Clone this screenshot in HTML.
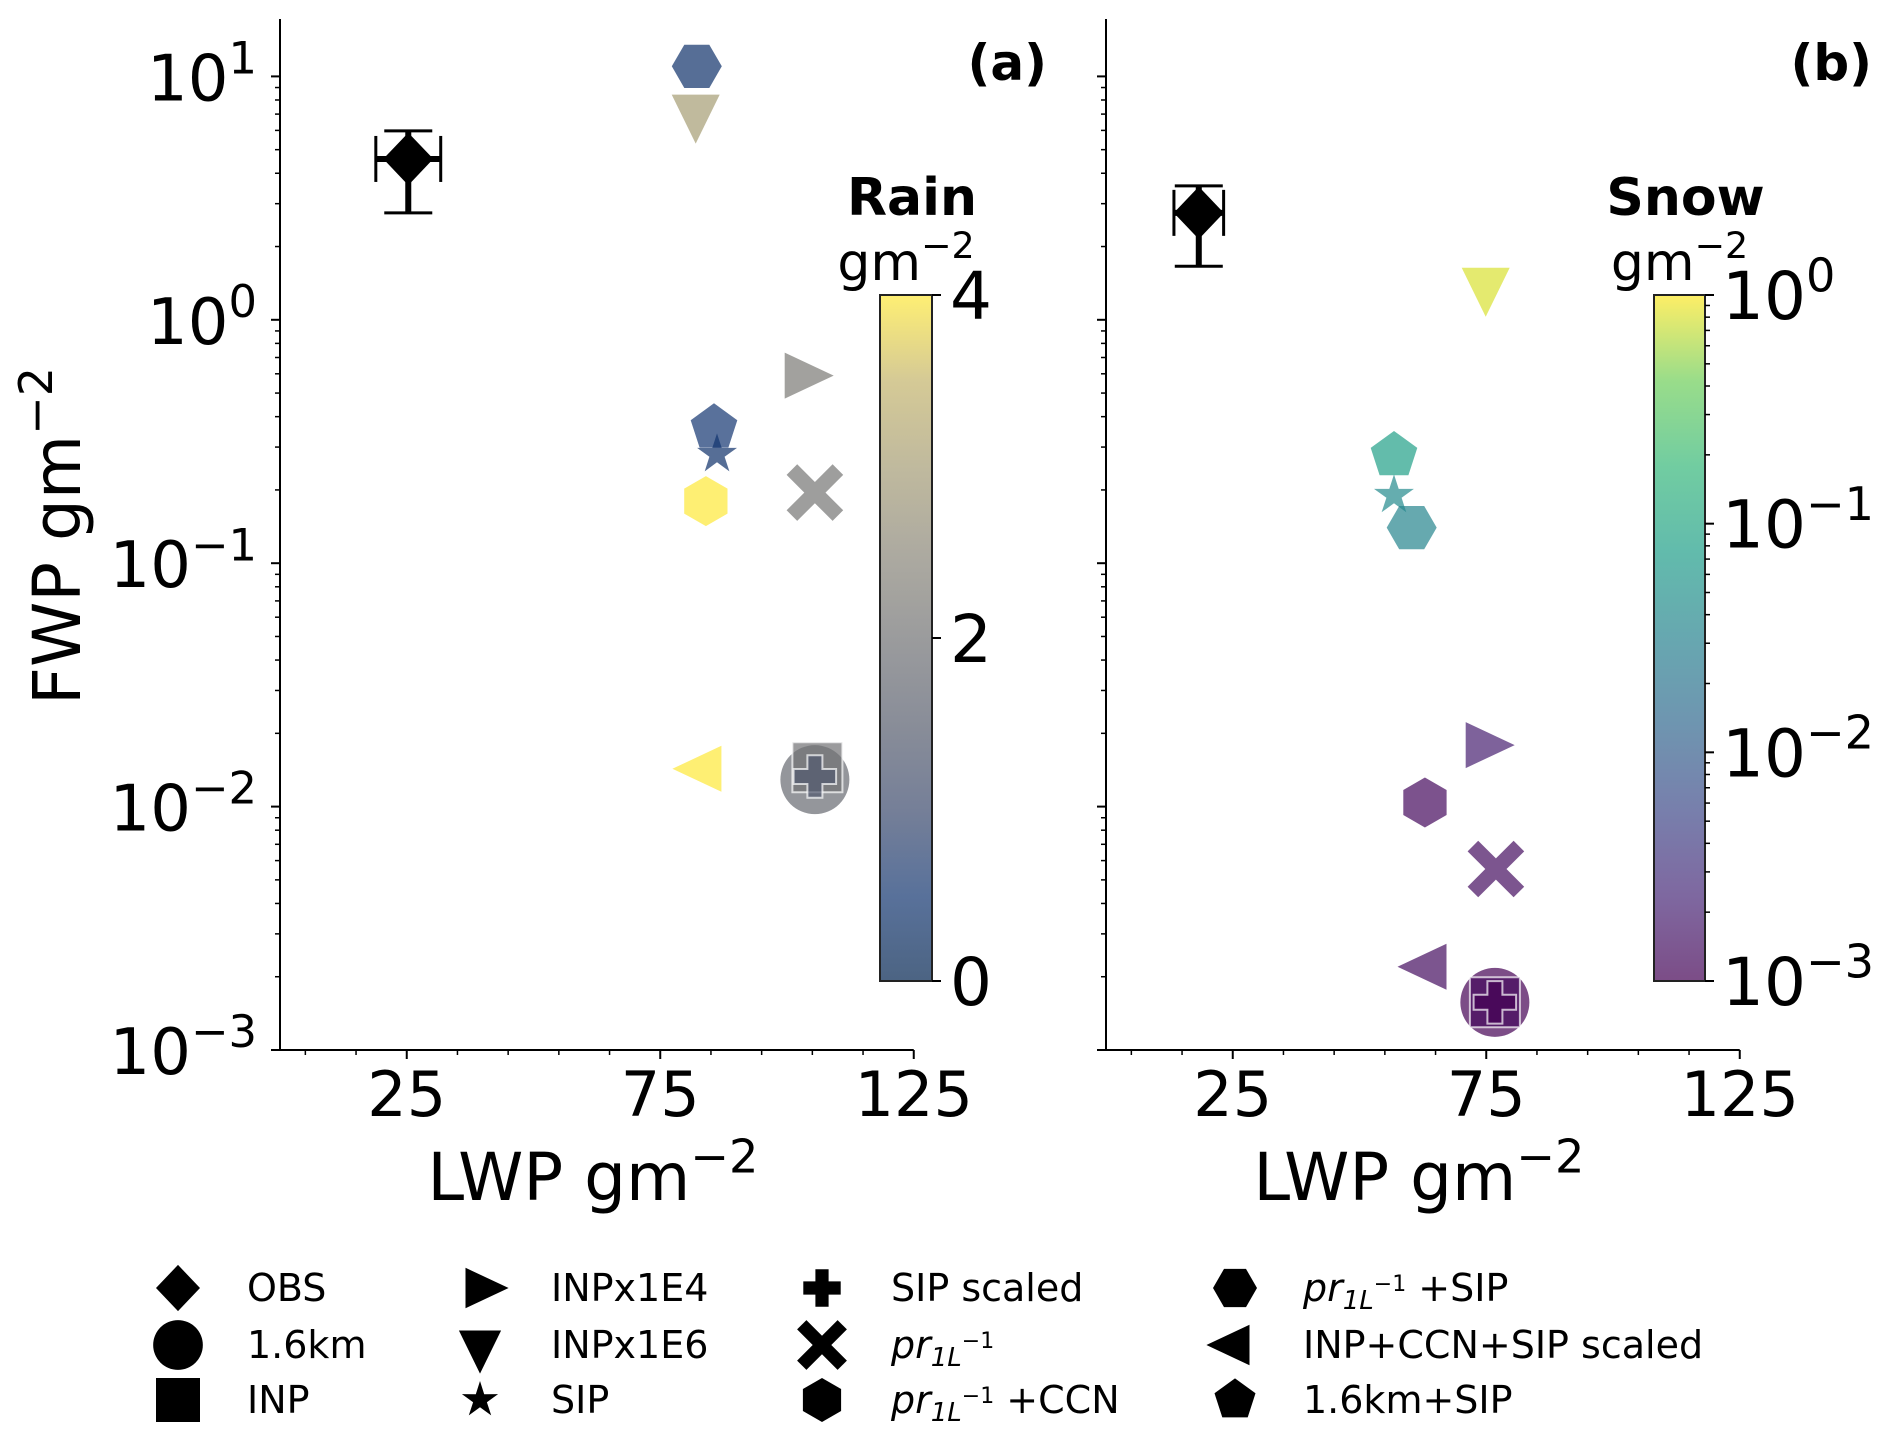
<!DOCTYPE html>
<html><head><meta charset="utf-8"><style>
html,body{margin:0;padding:0;background:#fff;}
svg{display:block;font-family:"DejaVu Sans","Liberation Sans",sans-serif;}
</style></head><body>
<svg id="fig" width="1892" height="1440" viewBox="0 0 1892 1440" xmlns="http://www.w3.org/2000/svg">
<defs>
<linearGradient id="gradA" x1="0" y1="1" x2="0" y2="0">
<stop offset="0" stop-color="#00224e"/><stop offset="0.125" stop-color="#123570"/><stop offset="0.25" stop-color="#3b496c"/><stop offset="0.375" stop-color="#575d6d"/><stop offset="0.5" stop-color="#707173"/><stop offset="0.625" stop-color="#8a8678"/><stop offset="0.75" stop-color="#a59c74"/><stop offset="0.875" stop-color="#c3b369"/><stop offset="1" stop-color="#fee838"/>
</linearGradient>
<linearGradient id="gradB" x1="0" y1="1" x2="0" y2="0">
<stop offset="0" stop-color="#440154"/><stop offset="0.125" stop-color="#482878"/><stop offset="0.25" stop-color="#3e4989"/><stop offset="0.375" stop-color="#31688e"/><stop offset="0.5" stop-color="#26828e"/><stop offset="0.625" stop-color="#1f9e89"/><stop offset="0.75" stop-color="#35b779"/><stop offset="0.875" stop-color="#6ece58"/><stop offset="1" stop-color="#fde725"/>
</linearGradient>
</defs>
<g id="panelA"></g>
<g id="panelB"></g>
<g id="legend"></g>
</svg>
<script>
// ---- data ----
const experiments = ["OBS","1.6km","INP","INPx1E4","INPx1E6","SIP","SIP scaled","pr","pr+CCN","pr+SIP","INP+CCN+SIP scaled","1.6km+SIP"];
const markers = ["D","o","s",">","v","*","P","X","h","H","<","p"];
// Panel a (rain)
const lwpA  = [25.3, 105.5, 106, 102.8, 82, 86.2, 105.5, 105.5, 84, 82.2, 83.8, 85.6];
const fwpA  = [4.58, 0.0129, 0.0145, 0.59, 7.2, 0.28, 0.0133, 0.195, 0.18, 11.0, 0.0143, 0.36];
const rainA = [null, 1.8, 2.0, 2.2, 3.0, 0.4, 1.4, 2.1, 4.0, 0.4, 4.0, 0.5];
const obsA = {xerr:6.4, ylo:2.75, yhi:5.97};
// Panel b (snow)
const lwpB  = [18.3, 76.7, 76.7, 74.2, 74.9, 56.8, 76.7, 76.9, 62.9, 60.3, 63.9, 56.8];
const fwpB  = [2.75, 0.00157, 0.00157, 0.0179, 1.40, 0.19, 0.00157, 0.00554, 0.0104, 0.14, 0.0022, 0.277];
const snowB = [null, 0.001, 0.0012, 0.002, 0.8, 0.04, 0.001, 0.0013, 0.0012, 0.035, 0.0013, 0.08];
const obsB = {xerr:4.9, ylo:1.66, yhi:3.55};
const xTicks = [25,75,125];
const xMinor = [5,15,35,45,55,65,85,95,105,115];
const yTickExp = [1,0,-1,-2,-3];
const cbATicks = [0,2,4];
const cbBTickExp = [0,-1,-2,-3];

const NS="http://www.w3.org/2000/svg";
function el(tag, attrs, parent){const e=document.createElementNS(NS,tag);for(const k in attrs)e.setAttribute(k,attrs[k]);if(parent)parent.appendChild(e);return e;}

const Y0=1050, DEC=243.4, XS=5.07;
function yS(v){return Y0-(Math.log10(v)+3)*DEC;}
function xA(v){return 280+v*XS;}
function xB(v){return 1106+v*XS;}

const civ=["#00224e","#123570","#3b496c","#575d6d","#707173","#8a8678","#a59c74","#c3b369","#fee838"];
const vir=["#440154","#482878","#3e4989","#31688e","#26828e","#1f9e89","#35b779","#6ece58","#fde725"];
function interp(stops,t){t=Math.max(0,Math.min(1,t));const n=stops.length-1;const i=Math.min(n-1,Math.floor(t*n));const f=t*n-i;
 const a=stops[i],b=stops[i+1];const p=s=>[1,3,5].map(j=>parseInt(s.substr(j,2),16));const ca=p(a),cb=p(b);
 return "rgb("+ca.map((c,j)=>Math.round(c+(cb[j]-c)*f)).join(",")+")";}
function colA(v){return interp(civ,v/4);}
function colB(v){return interp(vir,(Math.log10(v)+3)/3);}

function markerPath(m,cx,cy,s){
 const pts=(arr)=>"M"+arr.map(p=>(cx+p[0]).toFixed(1)+","+(cy+p[1]).toFixed(1)).join("L")+"Z";
 const poly=(n,r,rot)=>{const a=[];for(let i=0;i<n;i++){const t=rot+i*2*Math.PI/n;a.push([r*Math.sin(t),-r*Math.cos(t)]);}return a;};
 const plus=(w,L)=>[[-w,-L],[w,-L],[w,-w],[L,-w],[L,w],[w,w],[w,L],[-w,L],[-w,w],[-L,w],[-L,-w],[-w,-w]];
 switch(m){
  case "D": return pts([[0,-s*1.05],[s,0],[0,s*1.05],[-s,0]]);
  case "s": return pts([[-s,-s],[s,-s],[s,s],[-s,s]]);
  case ">": return pts([[-s*0.66,-s*0.92],[s*1.3,0],[-s*0.66,s*0.92]]);
  case "<": return pts([[s*0.66,-s*0.92],[-s*1.3,0],[s*0.66,s*0.92]]);
  case "v": return pts([[-s*0.96,-s*0.66],[s*0.96,-s*0.66],[0,s*1.3]]);
  case "h": return pts(poly(6,s,0));
  case "H": return pts(poly(6,s,Math.PI/6));
  case "p": return pts(poly(5,s*0.98,0));
  case "*": {const a=[];for(let i=0;i<10;i++){const r=i%2?s*0.38:s;const t=i*Math.PI/5;a.push([r*Math.sin(t),-r*Math.cos(t)]);}return pts(a);}
  case "P": return pts(plus(s*0.3,s*0.85));
  case "X": {const c=Math.SQRT1_2;return pts(plus(s*0.3,s*1.3).map(p=>[(p[0]-p[1])*c,(p[0]+p[1])*c]));}
 }
 return "";
}
function drawMarker(g,m,cx,cy,s,fill,op,stroke){
 if(m==="o"){return el("circle",{cx:cx,cy:cy,r:s*1.38,fill:fill,"fill-opacity":op},g);}
 const a={d:markerPath(m,cx,cy,s),fill:fill,"fill-opacity":op};
 if(stroke){a.stroke=stroke;a["stroke-width"]=2;a["stroke-opacity"]=0.7;}
 return el("path",a,g);
}
function sup(parent,x,y,base,exp,size,anchor){
 const t=el("text",{x:x,y:y,"font-size":size,"text-anchor":anchor||"start",fill:"#000"},parent);
 const b=el("tspan",{},t);b.textContent=base;
 const e=el("tspan",{dy:-size*0.42,"font-size":size*0.7},t);e.textContent=exp;
 return t;
}

function panel(g,xf,lwp,fwp,cv,colf,obs,opts){
 const L=xf(0),R=xf(125);
 const sp=el("g",{},g);
 
 
 el("line",{x1:L,y1:19,x2:L,y2:Y0,stroke:"#000","stroke-width":2},sp);
 el("line",{x1:L,y1:Y0,x2:R,y2:Y0,stroke:"#000","stroke-width":2},sp);
 const xt=el("g",{},g);
 
 
 xTicks.forEach(v=>{el("line",{x1:xf(v),y1:Y0,x2:xf(v),y2:Y0+9,stroke:"#000","stroke-width":2},xt);
  const t=el("text",{x:xf(v),y:1116,"font-size":62,"text-anchor":"middle"},xt);t.textContent=v;});
 xMinor.forEach(v=>el("line",{x1:xf(v),y1:Y0,x2:xf(v),y2:Y0+5,stroke:"#000","stroke-width":1.5},xt));
 const yt=el("g",{},g);
 
 
 yTickExp.forEach(e=>{const y=yS(Math.pow(10,e));el("line",{x1:L-9,y1:y,x2:L,y2:y,stroke:"#000","stroke-width":2},yt);
  if(opts.ylabels){sup(yt,257,y+24,"10",e<0?"\u2212"+(-e):String(e),64,"end");}
  if(e>-3){for(let k=2;k<10;k++){const yy=yS(k*Math.pow(10,e-1));el("line",{x1:L-5,y1:yy,x2:L,y2:yy,stroke:"#000","stroke-width":1.5},yt);}}});
 for(let k=2;k<10;k++){const yy=yS(k*10);if(yy>19)el("line",{x1:L-5,y1:yy,x2:L,y2:yy,stroke:"#000","stroke-width":1.5},yt);}
 const xl=sup(g,(L+R)/2-4,1200,"LWP gm","\u22122",66,"middle");
 
 
 const pg=el("g",{},g);
 
 
 for(let i=1;i<lwp.length;i++){
  const stroke=(markers[i]==="P"||markers[i]==="s")?"#ffffff":null;
  const sz=markers[i]==="*"?21:25;
  const m=drawMarker(pg,markers[i],xf(lwp[i]),yS(fwp[i]),sz,colf(cv[i]),0.7,stroke);
  
  
 }
 const og=el("g",{},g);
 
 
 const ox=xf(lwp[0]),oy=yS(fwp[0]);
 const x1=xf(lwp[0]-obs.xerr),x2=xf(lwp[0]+obs.xerr),y1=yS(obs.yhi),y2=yS(obs.ylo);
 el("line",{x1:x1,y1:oy,x2:x2,y2:oy,stroke:"#000","stroke-width":6},og);
 el("line",{x1:ox,y1:y1,x2:ox,y2:y2,stroke:"#000","stroke-width":6},og);
 [x1,x2].forEach(x=>el("line",{x1:x,y1:oy-23,x2:x,y2:oy+23,stroke:"#000","stroke-width":3},og));
 [y1,y2].forEach(y=>el("line",{x1:ox-24,y1:y,x2:ox+24,y2:y,stroke:"#000","stroke-width":3},og));
 drawMarker(og,"D",ox,oy,25,"#000",1,null);
}

const gA=document.getElementById("panelA"), gB=document.getElementById("panelB");
panel(gA,xA,lwpA,fwpA,rainA,colA,obsA,{ylabels:true});
panel(gB,xB,lwpB,fwpB,snowB,colB,obsB,{ylabels:false});

const yl=el("text",{transform:"translate(80,536) rotate(-90)","font-size":66,"text-anchor":"middle"},gA);


(function(){const b=el("tspan",{},yl);b.textContent="FWP gm";const e=el("tspan",{dy:-28,"font-size":46},yl);e.textContent="\u22122";})();

const la=el("text",{x:1047,y:80,"font-size":50,"font-weight":"bold","text-anchor":"end"},gA);la.textContent="(a)";


const lb=el("text",{x:1872,y:80,"font-size":50,"font-weight":"bold","text-anchor":"end"},gB);lb.textContent="(b)";



const CT=295,CB=981;
function colorbar(g,x0,x1,grad,title,ticks){
 const cg=el("g",{},g);
 
 
 el("rect",{x:x0,y:CT,width:x1-x0,height:CB-CT,fill:"url(#"+grad+")","fill-opacity":0.7,stroke:"#222","stroke-width":2},cg);
 const t=el("text",{x:(x0+x1)/2+6,y:215,"font-size":52,"font-weight":"bold","text-anchor":"middle"},cg);t.textContent=title;
 sup(cg,(x0+x1)/2,280,"gm","\u22122",52,"middle");
 ticks(cg,x1);
}
colorbar(gA,880,932,"gradA","Rain",(cg,x1)=>{
 cbATicks.forEach(v=>{const y=CB-(v/4)*(CB-CT);el("line",{x1:x1,y1:y,x2:x1+9,y2:y,stroke:"#000","stroke-width":2},cg);
  const t=el("text",{x:950,y:y+24,"font-size":66},cg);t.textContent=v;});
});
colorbar(gB,1654,1705,"gradB","Snow",(cg,x1)=>{
 const cy=v=>CB-(Math.log10(v)+3)/3*(CB-CT);
 cbBTickExp.forEach(e=>{const y=cy(Math.pow(10,e));el("line",{x1:x1,y1:y,x2:x1+9,y2:y,stroke:"#000","stroke-width":2},cg);
  sup(cg,1722,y+24,"10",e<0?"\u2212"+(-e):String(e),66,"start");
  if(e>-3){for(let k=2;k<10;k++){const yy=cy(k*Math.pow(10,e-1));el("line",{x1:x1,y1:yy,x2:x1+5,y2:yy,stroke:"#000","stroke-width":1.5},cg);}}});
});

const lg=document.getElementById("legend");
const cols=[[178,247],[480,551],[822,891],[1235,1303]];
const rows=[1288,1345,1400];
const legItems=[
 ["D","OBS"],["o","1.6km"],["s","INP"],
 [">","INPx1E4"],["v","INPx1E6"],["*","SIP"],
 ["P","SIP scaled"],["X","pr|"],["h","pr| +CCN"],
 ["H","pr| +SIP"],["<","INP+CCN+SIP scaled"],["p","1.6km+SIP"]
];
legItems.forEach((it,i)=>{
 const c=cols[Math.floor(i/3)],y=rows[i%3];
 const eg=el("g",{},lg);
 
 
 const s=it[0]==="o"?18:(it[0]==="*"?19:22);
 drawMarker(eg,it[0],c[0],y,s,"#000",1,null);
 const t=el("text",{x:c[1],y:y+13,"font-size":38},eg);
 if(it[1].indexOf("pr|")===0){
  const a=el("tspan",{"font-style":"italic"},t);a.textContent="pr";
  const b=el("tspan",{"font-size":26,dy:8,"font-style":"italic"},t);b.textContent="1L";
  const c2=el("tspan",{"font-size":22,dy:-18},t);c2.textContent="\u22121";
  const rest=it[1].slice(3);
  if(rest){const d=el("tspan",{dy:10},t);d.textContent=" "+rest.trim();}
 } else t.textContent=it[1];
});
</script>
</body></html>
